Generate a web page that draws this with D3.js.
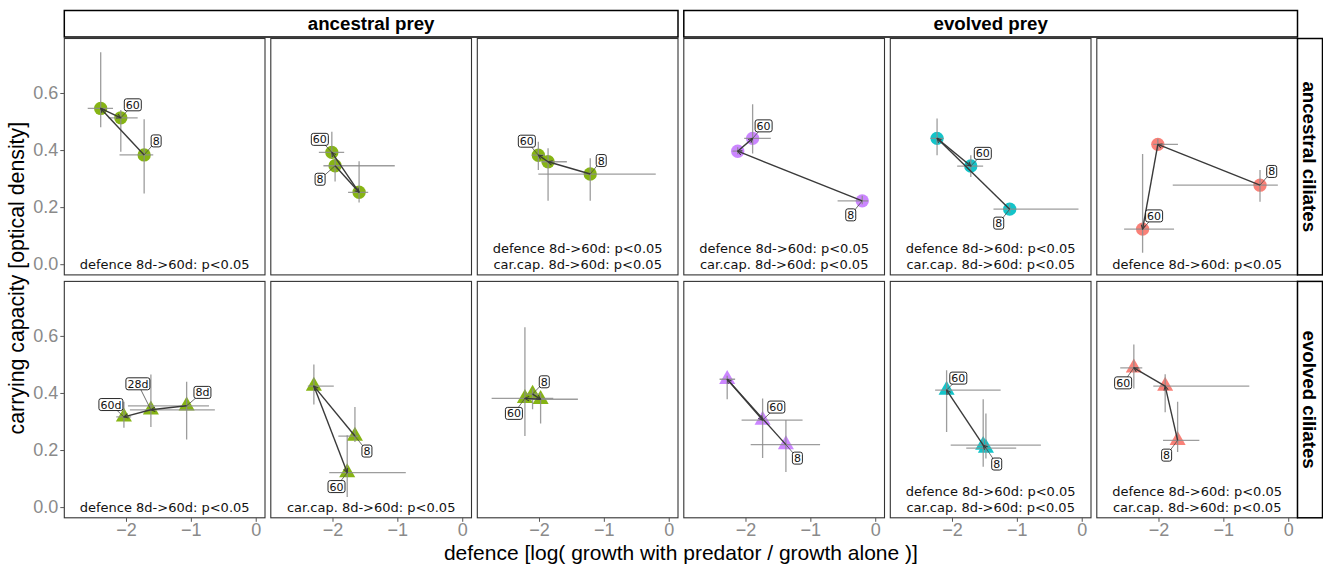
<!DOCTYPE html>
<html>
<head>
<meta charset="utf-8">
<script src="https://cdn.jsdelivr.net/npm/d3@7"></script>
<style>
  body { margin: 0; background: #fff; }
  svg { display: block; }
</style>
</head>
<body>
<svg id="chart" width="1323" height="564"></svg>
<script>
// ---- data -------------------------------------------------------------
const preyStrips = ["ancestral prey", "evolved prey"];
const ciliateStrips = ["ancestral ciliates", "evolved ciliates"];
const columnColours = ["#7CAE00", "#7CAE00", "#7CAE00", "#C77CFF", "#00BFC4", "#F8766D"];
const xTicks = [-2, -1, 0];
const yTicks = [0, 0.2, 0.4, 0.6];
const xLimits = [-2.951, 0.143];
const yLimits = [-0.0375, 0.791];

// one entry per observation; panel = row * 6 + column, days 8 -> 28 -> 60
const obsPanel = [0,0,0, 1,1,1, 2,2,2, 3,3,3, 4,4,4, 5,5,5,
                  6,6,6, 7,7,7, 8,8,8, 9,9,9, 10,10,10, 11,11,11];
const obsDay = [8,28,60, 8,28,60, 8,28,60, 8,28,60, 8,28,60, 8,28,60,
                8,28,60, 8,28,60, 8,28,60, 8,28,60, 8,28,60, 8,28,60];
const obsDefence = [-1.72,-2.39,-2.08,  -1.96,-1.59,-2.01,  -1.21,-1.86,-2.01,
                    -0.20,-2.12,-1.89,  -1.11,-2.23,-1.71,  -0.435,-2.01,-2.245,
                    -1.065,-1.616,-2.032, -1.654,-2.287,-1.773, -2.099,-1.975,-2.217,
                    -1.377,-2.282,-1.736, -1.477,-1.519,-2.083, -1.705,-1.897,-2.38];
const obsDefenceLo = [-2.10,-2.59,-2.27, -2.14,-1.76,-2.21, -2.01,-1.96,-2.11,
                      -0.58,-2.20,-2.02, -1.36,-2.33,-1.92, -1.78,-2.08,-2.53,
                      -1.97,-1.94,-2.15, -1.91,-2.38,-2.05, -2.20,-2.14,-2.73,
                      -1.92,-2.40,-2.06, -1.78,-2.02,-2.26, -1.93,-2.08,-2.59];
const obsDefenceHi = [-1.58,-2.20,-1.82, -1.04,-1.45,-1.82, -0.20,-1.57,-1.91,
                      -0.11,-2.05,-1.61, -0.05,-2.13,-1.52, -0.16,-1.70,-1.76,
                      -0.72,-0.63,-1.92, -1.60,-1.98,-0.87, -2.00,-1.40,-1.78,
                      -0.85,-2.16,-1.12, -1.01,-0.63,-1.25, -1.37,-0.60,-2.25];
const obsCapacity = [0.383,0.546,0.513, 0.345,0.252,0.392, 0.316,0.359,0.382,
                     0.222,0.396,0.441, 0.193,0.441,0.344, 0.277,0.420,0.123,
                     0.355,0.341,0.316, 0.249,0.424,0.121, 0.396,0.378,0.381,
                     0.219,0.448,0.305, 0.207,0.217,0.410, 0.234,0.424,0.488];
const obsCapacityLo = [0.248,0.480,0.394, 0.290,0.216,0.371, 0.222,0.222,0.330,
                       0.210,0.385,0.388, 0.180,0.382,0.306, 0.219,0.400,0.040,
                       0.237,0.281,0.278, 0.228,0.360,0.035, 0.343,0.293,0.249,
                       0.123,0.378,0.172, 0.170,0.141,0.263, 0.193,0.332,0.416];
const obsCapacityHi = [0.508,0.743,0.540, 0.375,0.361,0.464, 0.371,0.406,0.429,
                       0.240,0.410,0.561, 0.210,0.511,0.382, 0.330,0.440,0.386,
                       0.439,0.465,0.369, 0.351,0.500,0.252, 0.416,0.400,0.630,
                       0.305,0.460,0.381, 0.328,0.378,0.480, 0.369,0.466,0.570];
const obsLabel = ["8","","60", "8","","60", "8","","60", "8","","60", "8","","60", "8","","60",
                  "8d","28d","60d", "8","","60", "8","","60", "8","","60", "8","","60", "8","","60"];

// significance notes printed at the foot of each panel
const panelNotes = [
  ["defence 8d->60d: p<0.05"],
  [],
  ["defence 8d->60d: p<0.05", "car.cap. 8d->60d: p<0.05"],
  ["defence 8d->60d: p<0.05", "car.cap. 8d->60d: p<0.05"],
  ["defence 8d->60d: p<0.05", "car.cap. 8d->60d: p<0.05"],
  ["defence 8d->60d: p<0.05"],
  ["defence 8d->60d: p<0.05"],
  ["car.cap. 8d->60d: p<0.05"],
  [],
  [],
  ["defence 8d->60d: p<0.05", "car.cap. 8d->60d: p<0.05"],
  ["defence 8d->60d: p<0.05", "car.cap. 8d->60d: p<0.05"]
];

// ---- layout -----------------------------------------------------------
const W = 1323, H = 564;
const panelX0 = 64.3, panelW = 200.7, gapX = 5.8;
const panelTops = [38.5, 281.4], panelH = 236.4;
const stripTopY = 10.5, stripTopH = 26.5, stripRightW = 25;
// repelled label offsets (px) relative to their point, same order as obsLabel
const labelNudge = [
  [12,-14],null,[12,-13],   [-15,13.5],null,[-12,-13],  [11,-13.5],null,[-11.5,-14],
  [-11.5,14],null,[11,-12.5], [-11,14],null,[12,-12.7], [11.7,-13.7],null,[11.5,-13.2],
  [15.8,-13.4],[-13,-26],[-13,-12.4], [12,15],null,[-10.7,14], [11.7,-12.3],null,[-11,15],
  [11.5,13.5],null,[13.7,-13], [10.8,16],null,[11.7,-12], [-11,14.8],null,[-10.7,15]
];

const svg = d3.select("#chart");
const x = d3.scaleLinear().domain(xLimits).range([0, panelW]);
const y = d3.scaleLinear().domain(yLimits).range([panelH, 0]);

const defs = svg.append("defs");
defs.append("marker")
  .attr("id", "head")
  .attr("viewBox", "-7 -4 8 8")
  .attr("refX", 0).attr("refY", 0)
  .attr("markerWidth", 8).attr("markerHeight", 8)
  .attr("markerUnits", "userSpaceOnUse")
  .attr("orient", "auto")
  .append("path")
  .attr("d", "M-4.2,-2.2L0,0L-4.2,2.2")
  .attr("fill", "none").attr("stroke", "#3a3a3a").attr("stroke-width", 1);

const obs = obsPanel.map((p, i) => ({
  panel: p, day: obsDay[i],
  d: obsDefence[i], dLo: obsDefenceLo[i], dHi: obsDefenceHi[i],
  k: obsCapacity[i], kLo: obsCapacityLo[i], kHi: obsCapacityHi[i],
  label: obsLabel[i], nudge: labelNudge[i]
}));

const fontSans = "'Liberation Sans', Arial, sans-serif";
const fontLab = "'DejaVu Sans', Verdana, sans-serif";

for (let p = 0; p < 12; p++) {
  const row = Math.floor(p / 6), col = p % 6;
  const px = panelX0 + col * (panelW + gapX);
  const py = panelTops[row];
  const g = svg.append("g").attr("transform", `translate(${px},${py})`);
  const colour = columnColours[col];
  const pts = obs.filter(o => o.panel === p).sort((a, b) => a.day - b.day);

  g.append("rect").attr("width", panelW).attr("height", panelH).attr("fill", "#fff");

  const clip = "clip" + p;
  defs.append("clipPath").attr("id", clip)
    .append("rect").attr("width", panelW).attr("height", panelH);
  const inner = g.append("g").attr("clip-path", `url(#${clip})`);

  // points
  const sym = row === 0 ? d3.symbolCircle : d3.symbolTriangle;
  const size = row === 0 ? 140 : 112;
  inner.selectAll("path.pt").data(pts).join("path")
    .attr("class", "pt")
    .attr("transform", d => `translate(${x(d.d)},${y(d.k)})`)
    .attr("d", d3.symbol(sym, size))
    .attr("fill", colour).attr("fill-opacity", 0.92);

  // error bars
  inner.selectAll("line.eh").data(pts).join("line")
    .attr("x1", d => x(d.dLo)).attr("x2", d => x(d.dHi))
    .attr("y1", d => y(d.k)).attr("y2", d => y(d.k))
    .attr("stroke", "#8c8c8c").attr("stroke-opacity", 0.85).attr("stroke-width", 1.3);
  inner.selectAll("line.ev").data(pts).join("line")
    .attr("x1", d => x(d.d)).attr("x2", d => x(d.d))
    .attr("y1", d => y(d.kLo)).attr("y2", d => y(d.kHi))
    .attr("stroke", "#8c8c8c").attr("stroke-opacity", 0.85).attr("stroke-width", 1.3);

  // trajectory 8 -> 28 -> 60 days
  for (let s = 0; s < pts.length - 1; s++) {
    inner.append("line")
      .attr("x1", x(pts[s].d)).attr("y1", y(pts[s].k))
      .attr("x2", x(pts[s + 1].d)).attr("y2", y(pts[s + 1].k))
      .attr("stroke", "#3a3a3a").attr("stroke-width", 1.4)
      .attr("marker-end", "url(#head)");
  }

  // day labels with leader segments
  pts.filter(o => o.label).forEach(o => {
    const cx = x(o.d), cy = y(o.k);
    const lx = cx + o.nudge[0], ly = cy + o.nudge[1];
    inner.append("line").attr("x1", cx).attr("y1", cy).attr("x2", lx).attr("y2", ly)
      .attr("stroke", "#4a4a4a").attr("stroke-width", 0.8);
    const lg = inner.append("g").attr("transform", `translate(${lx},${ly})`);
    const rect = lg.append("rect").attr("fill", "#fff").attr("stroke", "#111")
      .attr("stroke-width", 0.9).attr("rx", 2.2).attr("ry", 2.2);
    const t = lg.append("text").text(o.label)
      .attr("text-anchor", "middle").attr("dy", "0.36em")
      .attr("font-family", fontLab).attr("font-size", 11).attr("fill", "#111");
    const w = t.node().getComputedTextLength() + 3;
    rect.attr("x", -w / 2).attr("y", -6).attr("width", w).attr("height", 12);
  });

  // significance notes
  const notes = panelNotes[p];
  notes.forEach((txt, i) => {
    g.append("text").text(txt)
      .attr("x", panelW / 2)
      .attr("y", panelH - 5.5 - (notes.length - 1 - i) * 16.5)
      .attr("text-anchor", "middle")
      .attr("font-family", fontLab).attr("font-size", 13).attr("fill", "#111");
  });

  g.append("rect").attr("width", panelW).attr("height", panelH)
    .attr("fill", "none").attr("stroke", "#333").attr("stroke-width", 1.1);

  // axes
  if (col === 0) {
    const ay = g.append("g").call(d3.axisLeft(y).tickValues(yTicks).tickSize(4).tickPadding(2)
      .tickFormat(d3.format(".1f")));
    ay.select(".domain").remove();
    ay.selectAll(".tick line").attr("stroke", "#555");
    ay.selectAll(".tick text").attr("fill", "#8a8a8a").attr("font-size", 18)
      .attr("font-family", fontSans);
  }
  if (row === 1) {
    const ax = g.append("g").attr("transform", `translate(0,${panelH})`)
      .call(d3.axisBottom(x).tickValues(xTicks).tickSize(4).tickPadding(1)
        .tickFormat(d => d < 0 ? "\u2212" + Math.abs(d) : String(d)));
    ax.select(".domain").remove();
    ax.selectAll(".tick line").attr("stroke", "#555");
    ax.selectAll(".tick text").attr("fill", "#8a8a8a").attr("font-size", 18)
      .attr("font-family", fontSans);
  }
}

// facet strips
preyStrips.forEach((name, i) => {
  const sx = panelX0 + i * 3 * (panelW + gapX);
  const sw = 3 * panelW + 2 * gapX;
  svg.append("rect").attr("x", sx).attr("y", stripTopY).attr("width", sw).attr("height", stripTopH)
    .attr("fill", "#fff").attr("stroke", "#000").attr("stroke-width", 1.5);
  svg.append("text").text(name)
    .attr("x", sx + sw / 2).attr("y", stripTopY + stripTopH / 2).attr("dy", "0.35em")
    .attr("text-anchor", "middle").attr("font-family", fontSans)
    .attr("font-weight", "bold").attr("font-size", 18.7).attr("fill", "#000");
});
const rightX = panelX0 + 6 * panelW + 5 * gapX;
ciliateStrips.forEach((name, i) => {
  const sy = panelTops[i];
  svg.append("rect").attr("x", rightX).attr("y", sy).attr("width", stripRightW).attr("height", panelH)
    .attr("fill", "#fff").attr("stroke", "#000").attr("stroke-width", 1.5);
  svg.append("text").text(name)
    .attr("transform", `translate(${rightX + stripRightW / 2},${sy + panelH / 2}) rotate(90)`)
    .attr("dy", "0.35em")
    .attr("text-anchor", "middle").attr("font-family", fontSans)
    .attr("font-weight", "bold").attr("font-size", 18.7).attr("fill", "#000");
});

// axis titles
svg.append("text").text("defence [log( growth with predator / growth alone )]")
  .attr("x", (panelX0 + rightX) / 2).attr("y", 559.5)
  .attr("text-anchor", "middle").attr("font-family", fontSans)
  .attr("font-size", 21).attr("fill", "#000");
svg.append("text").text("carrying capacity [optical density]")
  .attr("transform", `translate(24,${(panelTops[0] + panelTops[1] + panelH) / 2}) rotate(-90)`)
  .attr("text-anchor", "middle").attr("font-family", fontSans)
  .attr("font-size", 21.3).attr("fill", "#000");
</script>
</body>
</html>
